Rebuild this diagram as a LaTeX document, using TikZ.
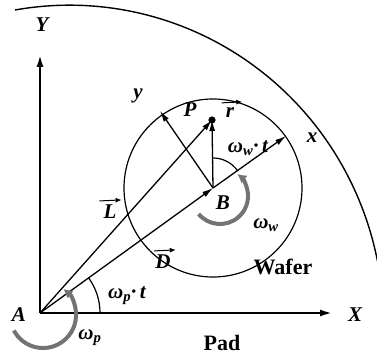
\documentclass[tikz,border=0pt]{standalone}
\usepackage{fontspec}
\setmainfont{Liberation Serif}
\usetikzlibrary{arrows.meta}
\begin{document}
\begin{tikzpicture}[x=1pt,y=1pt,
  lbl/.style={font=\fontsize{21}{22}\selectfont\bfseries\itshape, inner sep=0pt},
  up/.style={font=\fontsize{22}{24}\selectfont\bfseries, inner sep=0pt},
  axis/.style={line width=2pt,-{Latex[length=12pt,width=7pt]}},
  vec/.style={line width=1.3pt,-{Latex[length=11pt,width=6pt]}},
  thin/.style={line width=1.2pt},
  ovarrow/.style={line width=1pt,-{Latex[length=6pt,width=5pt]}},
  rot/.style={line width=4pt,draw=black!55,-{Latex[length=9pt,width=10pt]}}]
\useasboundingbox (0,0) rectangle (377,362);
% points
\coordinate (A) at (40,49);
\coordinate (B) at (213,174);
\coordinate (P) at (212,242);
\coordinate (Ytip) at (40,307);
\coordinate (Xtip) at (332,49);
\coordinate (xt) at (286,226);
\coordinate (yt) at (160,251);
% pad edge
\draw[line width=1.4pt] (15,352) arc[start angle=100, end angle=3, x radius=314, y radius=318];
% wafer
\draw[thin] (B) circle[radius=89];
% axes
\draw[axis] (A) -- (Ytip);
\draw[axis] (A) -- (Xtip);
% vectors
\draw[vec] (A) -- (B);
\draw[vec] (B) -- (xt);
\draw[vec] (B) -- (yt);
\draw[vec] (A) -- (P);
\draw[vec] (B) -- (P);
\fill (P) circle[radius=3.6];
% angle arcs
\draw[thin] (100,49) arc[start angle=0, end angle=35.9, radius=60];
\draw[thin] (237.3,191.6) arc[start angle=35.9, end angle=90, radius=30];
% rotation arrows
\draw[rot] (198.6,148) arc[start angle=-140, end angle=52, radius=28];
\draw[rot] (13.9,31.5) arc[start angle=-152, end angle=52, radius=33];
% labels
\node[lbl] (lY) at (42,337) {Y};
\node[lbl] (lX) at (355,47) {X};
\node[lbl] (lA) at (19,47) {A};
\node[up] (lPad) at (222,19) {Pad};
\node[up] (lWafer) at (283,95) {Wafer};
\node[lbl] (lwp) at (90,24) {ω\textsubscript{p}};
\node[lbl] (lwpt) at (127,66) {ω\textsubscript{p}·\,t};
\node[lbl] (lD) at (163,100) {D};
\node[lbl] (lL) at (110,150) {L};
\node[lbl] (lB) at (223,159) {B};
\node[lbl] (lww) at (266,137) {ω\textsubscript{w}};
\node[lbl] (lx) at (312,224) {x};
\node[lbl] (ly) at (138,266) {y};
\node[lbl] (lP) at (190,252) {P};
\node[lbl] (lr) at (230,249) {r};
\node[lbl] (lwwt) at (248,214) {ω\textsubscript{w}·\,t};
% arrows over vector names
\draw[ovarrow] ([xshift=-1pt,yshift=4pt]lD.north west) -- ([xshift=5pt,yshift=5pt]lD.north east);
\draw[ovarrow] ([xshift=-4pt,yshift=4pt]lL.north west) -- ([xshift=5pt,yshift=5pt]lL.north east);
\draw[ovarrow] ([xshift=-4pt,yshift=5pt]lr.north west) -- ([xshift=8pt,yshift=6pt]lr.north east);
\end{tikzpicture}
\end{document}
